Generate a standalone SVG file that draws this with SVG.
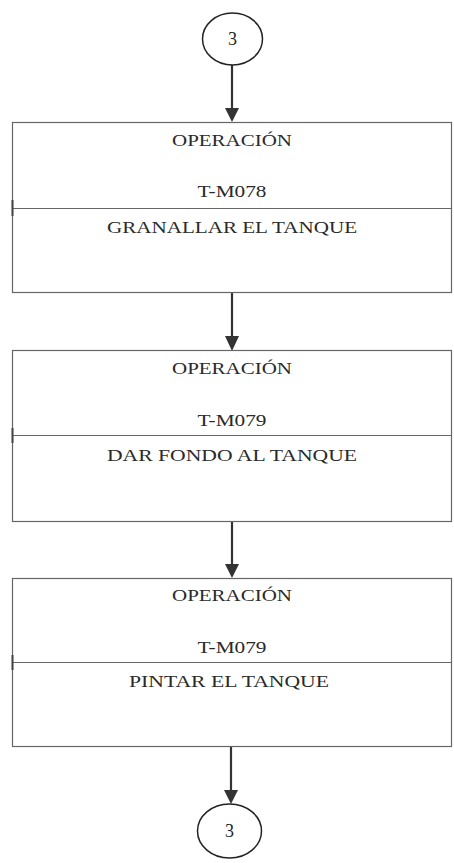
<svg xmlns="http://www.w3.org/2000/svg" width="454" height="863" viewBox="0 0 454 863">
<style>
.box{fill:#fff;stroke:#666;stroke-width:1.2}
.div{stroke:#666;stroke-width:1.2}
.conn{stroke:#333;stroke-width:2.2;fill:none}
.head{fill:#333}
.circ{fill:#fff;stroke:#222;stroke-width:1.5}
text{font-family:"Liberation Serif","Times New Roman",serif;font-size:16px;fill:#2a2a2a;text-anchor:middle}
.num{font-size:18px;fill:#222}
</style>
<rect width="454" height="863" fill="#fff"/>
<g id="connectors">
<line class="conn" x1="232" y1="65" x2="232" y2="109"/>
<polygon class="head" points="225,108 239,108 232,122"/>
<line class="conn" x1="232" y1="293" x2="232" y2="337"/>
<polygon class="head" points="225,336 239,336 232,351"/>
<line class="conn" x1="232" y1="522" x2="232" y2="565"/>
<polygon class="head" points="225,564 239,564 232,578"/>
<line class="conn" x1="231" y1="747" x2="231" y2="791"/>
<polygon class="head" points="224,790 238,790 231,804"/>
</g>
<g id="start">
<ellipse class="circ" cx="232.5" cy="39" rx="30" ry="26"/>
<text class="num" x="232.5" y="45">3</text>
</g>
<g id="op1">
<rect class="box" x="12.5" y="122.5" width="439" height="170"/>
<line class="div" x1="12.5" y1="208.5" x2="451.5" y2="208.5"/>
<line x1="12.5" y1="200" x2="12.5" y2="216" stroke="#444" stroke-width="2"/>
<text x="232" y="145.5" textLength="120" lengthAdjust="spacingAndGlyphs">OPERACIÓN</text>
<text x="232" y="197" textLength="69" lengthAdjust="spacingAndGlyphs">T-M078</text>
<text x="232" y="232.5" textLength="250" lengthAdjust="spacingAndGlyphs">GRANALLAR EL TANQUE</text>
</g>
<g id="op2">
<rect class="box" x="12.5" y="350.5" width="439" height="171"/>
<line class="div" x1="12.5" y1="435.5" x2="451.5" y2="435.5"/>
<line x1="12.5" y1="428" x2="12.5" y2="443" stroke="#444" stroke-width="2"/>
<text x="232" y="374" textLength="120" lengthAdjust="spacingAndGlyphs">OPERACIÓN</text>
<text x="232" y="425.5" textLength="69" lengthAdjust="spacingAndGlyphs">T-M079</text>
<text x="232" y="461" textLength="250" lengthAdjust="spacingAndGlyphs">DAR FONDO AL TANQUE</text>
</g>
<g id="op3">
<rect class="box" x="12.5" y="578.5" width="439" height="168"/>
<line class="div" x1="12.5" y1="662.5" x2="451.5" y2="662.5"/>
<line x1="12.5" y1="655" x2="12.5" y2="670" stroke="#444" stroke-width="2"/>
<text x="232" y="601" textLength="120" lengthAdjust="spacingAndGlyphs">OPERACIÓN</text>
<text x="232" y="652.5" textLength="69" lengthAdjust="spacingAndGlyphs">T-M079</text>
<text x="229" y="687" textLength="200" lengthAdjust="spacingAndGlyphs">PINTAR EL TANQUE</text>
</g>
<g id="end">
<ellipse class="circ" cx="229.5" cy="831" rx="32" ry="27"/>
<text class="num" x="229.5" y="837">3</text>
</g>
</svg>
